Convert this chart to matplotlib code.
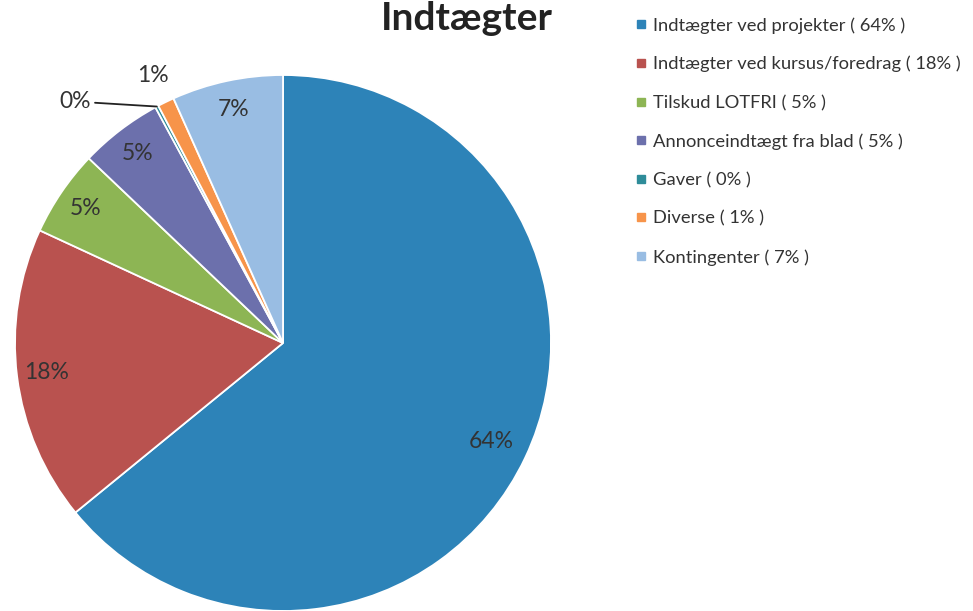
import numpy as np
import matplotlib.pyplot as plt
from matplotlib.lines import Line2D

plt.rcParams['font.family'] = ['Lato', 'DejaVu Sans']

# data
names = ["Indtægter ved projekter", "Indtægter ved kursus/foredrag", "Tilskud LOTFRI",
         "Annonceindtægt fra blad", "Gaver", "Diverse", "Kontingenter"]
shares = [64.1, 17.8, 5.2, 5.0, 0.2, 1.0, 6.7]
pct_labels = ["64%", "18%", "5%", "5%", "0%", "1%", "7%"]
colors = ['#2D83B8', '#B9524F', '#8DB554', '#6C70AC', '#2E8C99', '#F7944A', '#99BDE3']

W, H = 973, 611
fig = plt.figure(figsize=(W / 100, H / 100), dpi=100)
cx, cy, r = 283, 343, 268
ax = fig.add_axes([(cx - r) / W, (H - cy - r) / H, 2 * r / W, 2 * r / H])

wedges, _ = ax.pie(shares, colors=colors, startangle=90, counterclock=False,
                   radius=1, wedgeprops=dict(edgecolor='white', linewidth=1.3))
ax.set_xlim(-1, 1)
ax.set_ylim(-1, 1)
ax.set_aspect('equal')
ax.axis('off')

# percentage labels
for i, w in enumerate(wedges):
    th = np.deg2rad((w.theta1 + w.theta2) / 2)
    if names[i] == "Gaver":
        ax.annotate(pct_labels[i], xy=(np.cos(th), np.sin(th)), xytext=(-66, 5),
                    textcoords='offset pixels', ha='right', va='center',
                    fontsize=16.5, color='#333333',
                    arrowprops=dict(arrowstyle='-', color='#222222', lw=1.3,
                                    shrinkA=1, shrinkB=0))
    elif names[i] == "Diverse":
        ax.text(1.11 * np.cos(th), 1.11 * np.sin(th), pct_labels[i], ha='center',
                va='center', fontsize=16.5, color='#333333')
    else:
        d = 0.86 if shares[i] > 50 else 0.89
        ax.text(d * np.cos(th), d * np.sin(th), pct_labels[i], ha='center',
                va='center', fontsize=16.5, color='#333333')

fig.text(467 / W, 1 - 30 / H, "Indtægter", ha='center', va='baseline',
         fontsize=28, fontweight='bold', color='#222222')

handles = [Line2D([], [], marker='s', linestyle='none', markersize=5.8,
                  markerfacecolor=c, markeredgecolor=c) for c in colors]
labels = [f"{n} ( {p} )" for n, p in zip(names, pct_labels)]
fig.legend(handles, labels, loc='upper left', bbox_to_anchor=(635 / W, 1 - 17 / H),
           frameon=False, fontsize=13.2, labelspacing=1.22, handlelength=0.6,
           handletextpad=0.4, borderaxespad=0, borderpad=0, labelcolor='#333333')

fig.savefig("out.png", dpi=100)
